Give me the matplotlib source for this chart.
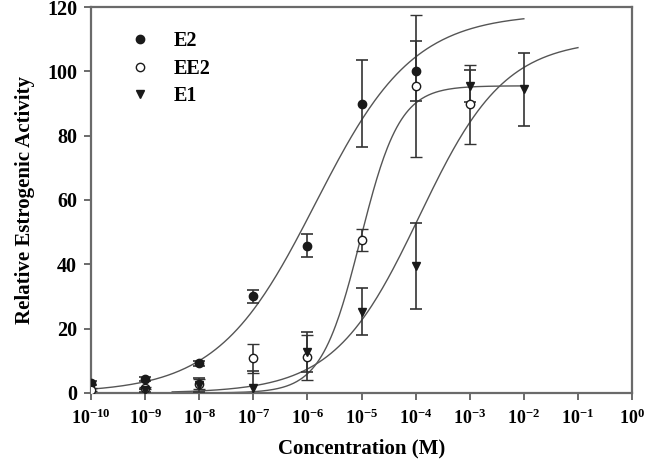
import numpy as np
import matplotlib
matplotlib.use("Agg")
import matplotlib.pyplot as plt
from matplotlib.lines import Line2D

plt.rcParams['font.family'] = ['Liberation Serif', 'DejaVu Serif']
plt.rcParams['font.weight'] = 'bold'
plt.rcParams['mathtext.fontset'] = 'custom'
plt.rcParams['mathtext.rm'] = 'Liberation Serif:bold'
plt.rcParams['mathtext.bf'] = 'Liberation Serif:bold'

# measured points (concentration in M)
e2_conc = [1e-10, 1e-9, 1e-8, 1e-7, 1e-6, 1e-5, 1e-4]
e2_val = [3.1, 4.3, 9.2, 30.0, 45.8, 90.0, 100.2]
e2_err = [0.6, 0.6, 0.8, 2.0, 3.5, 13.5, 9.3]

ee2_conc = [1e-10, 1e-9, 1e-8, 1e-7, 1e-6, 1e-5, 1e-4, 1e-3]
ee2_val = [1.0, 1.5, 2.8, 10.8, 11.1, 47.5, 95.5, 89.7]
ee2_err = [0.4, 0.4, 1.5, 4.5, 7.0, 3.5, 22.0, 12.3]

e1_conc = [1e-9, 1e-8, 1e-7, 1e-6, 1e-5, 1e-4, 1e-3, 1e-2]
e1_val = [0.8, 2.5, 1.7, 12.8, 25.3, 39.5, 95.4, 94.4]
e1_err = [0.4, 2.2, 5.0, 6.2, 7.3, 13.5, 5.0, 11.3]

# fitted four-parameter logistic curves: bottom, top, log EC50, hill slope, log x range
e2_fit = [0.0, 118.0, -5.85, 0.48, -10.0, -2.0]
ee2_fit = [0.0, 95.5, -5.02, 1.2, -8.5, -2.0]
e1_fit = [0.0, 110.0, -3.93, 0.55, -8.5, -1.0]

x_ticks = [10.0 ** k for k in range(-10, 1)]
x_labels = [r'$\mathrm{10^{%d}}$' % k for k in range(-10, 1)]
y_ticks = [0, 20, 40, 60, 80, 100, 120]

axis_col = '#6a6a6a'
ink = '#1a1a1a'


def logistic(p):
    lx = np.linspace(p[4], p[5], 300)
    y = p[0] + (p[1] - p[0]) / (1 + 10 ** ((p[2] - lx) * p[3]))
    return 10 ** lx, y


fig = plt.figure(figsize=(6.52, 4.62), dpi=100)
ax = fig.add_axes([0.1396, 0.1494, 0.8298, 0.8354])

for fit in [e2_fit, ee2_fit, e1_fit]:
    cx, cy = logistic(fit)
    ax.plot(cx, cy, color='#555555', lw=1.0, zorder=2)

eb_kw = dict(ls='none', ecolor='#333333', elinewidth=1.2, capsize=4.5,
             capthick=1.2, markersize=6, zorder=3)
ax.errorbar(e2_conc, e2_val, yerr=e2_err, fmt='o', color=ink, **eb_kw)
ax.errorbar(ee2_conc, ee2_val, yerr=ee2_err, fmt='o', color=ink,
            markerfacecolor='white', markeredgewidth=1.0, **eb_kw)
ax.errorbar(e1_conc, e1_val, yerr=e1_err, fmt='v', color=ink, **eb_kw)

ax.set_xscale('log')
ax.set_xlim(1e-10, 1e0)
ax.set_ylim(0, 120)
ax.set_xticks(x_ticks)
ax.set_xticklabels(x_labels)
ax.minorticks_off()
ax.set_yticks(y_ticks)

for s in ax.spines.values():
    s.set_color(axis_col)
    s.set_linewidth(1.6)
ax.tick_params(direction='out', length=5, width=1.4, color=axis_col,
               labelcolor='black')
ax.tick_params(axis='x', pad=6, labelsize=13)
ax.tick_params(axis='y', pad=5, labelsize=14.5)

ax.set_xlabel('Concentration (M)', fontsize=15, fontweight='bold', labelpad=8)
ax.set_ylabel('Relative Estrogenic Activity', fontsize=15, fontweight='bold', labelpad=9)

handles = [
    Line2D([], [], ls='none', marker='o', color=ink, markersize=6),
    Line2D([], [], ls='none', marker='o', color=ink, markerfacecolor='white',
           markeredgewidth=1.0, markersize=6),
    Line2D([], [], ls='none', marker='v', color=ink, markersize=6),
]
ax.legend(handles, ['E2', 'EE2', 'E1'], loc='upper left', bbox_to_anchor=(0.03, 0.985),
          frameon=False, fontsize=14.5, handletextpad=0.9, labelspacing=0.38,
          handlelength=1.5)

fig.savefig('out.png', dpi=100)
